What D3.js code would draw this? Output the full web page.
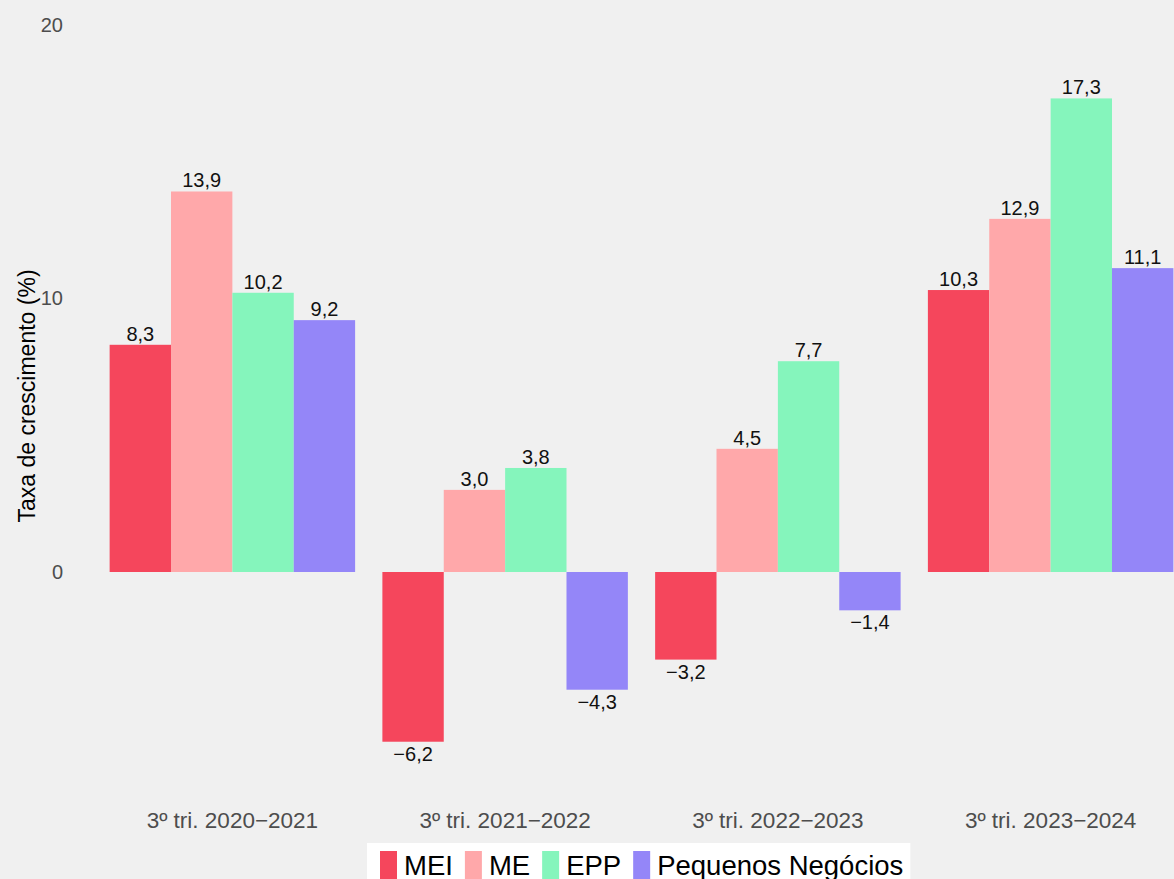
<!DOCTYPE html>
<html>
<head>
<meta charset="utf-8">
<script src="https://cdn.jsdelivr.net/npm/d3@7"></script>
<style>
  html, body { margin: 0; padding: 0; background: #f0f0f0; }
  svg { display: block; font-family: "Liberation Sans", Arial, Helvetica, sans-serif; }
</style>
</head>
<body>
<svg id="chart" width="1174" height="879"></svg>
<script>
const periods = ["3º tri. 2020−2021", "3º tri. 2021−2022", "3º tri. 2022−2023", "3º tri. 2023−2024"];
const seriesNames = ["MEI", "ME", "EPP", "Pequenos Negócios"];
const seriesColors = ["#f5465c", "#ffa8aa", "#85f5bc", "#9486f8"];
const mei = [8.3, -6.2, -3.2, 10.3];
const me = [13.9, 3.0, 4.5, 12.9];
const epp = [10.2, 3.8, 7.7, 17.3];
const pequenos = [9.2, -4.3, -1.4, 11.1];
const yTicks = [0, 10, 20];

const seriesValues = [mei, me, epp, pequenos];
const rows = [];
periods.forEach((p, i) => {
  seriesNames.forEach((s, j) => {
    rows.push({ period: p, series: s, value: seriesValues[j][i], color: seriesColors[j] });
  });
});

const svg = d3.select("#chart");
const width = 1174, height = 879;

svg.append("rect").attr("width", width).attr("height", height).attr("fill", "#f0f0f0");

// scales
const x = d3.scaleBand().domain(periods).range([96, 1187]).paddingInner(0.1).paddingOuter(0.05);
const xSub = d3.scaleBand().domain(seriesNames).range([0, x.bandwidth()]);
const y = d3.scaleLinear().domain([0, 20]).range([572, 24.5]);

const fmt = (v) => (v < 0 ? "\u2212" : "") + Math.abs(v).toFixed(1).replace(".", ",");

// y axis labels
svg.append("g").selectAll("text")
  .data(yTicks)
  .join("text")
  .attr("x", 63)
  .attr("y", (d) => y(d))
  .attr("dy", "0.35em")
  .attr("text-anchor", "end")
  .attr("fill", "#4d4d4d")
  .attr("font-size", 20)
  .text((d) => d);

svg.append("text")
  .attr("transform", `translate(35,${396}) rotate(-90)`)
  .attr("text-anchor", "middle")
  .attr("fill", "#000")
  .attr("font-size", 23)
  .text("Taxa de crescimento (%)");

// bars
const g = svg.append("g");
g.selectAll("rect")
  .data(rows)
  .join("rect")
  .attr("x", (d) => x(d.period) + xSub(d.series))
  .attr("width", xSub.bandwidth())
  .attr("y", (d) => y(Math.max(0, d.value)))
  .attr("height", (d) => Math.abs(y(d.value) - y(0)))
  .attr("fill", (d) => d.color);

g.selectAll("text")
  .data(rows)
  .join("text")
  .attr("x", (d) => x(d.period) + xSub(d.series) + xSub.bandwidth() / 2)
  .attr("y", (d) => (d.value >= 0 ? y(d.value) - 4 : y(d.value) + 19))
  .attr("text-anchor", "middle")
  .attr("fill", "#111")
  .attr("font-size", 20)
  .text((d) => fmt(d.value));

// x axis labels
svg.append("g").selectAll("text")
  .data(periods)
  .join("text")
  .attr("x", (d) => x(d) + x.bandwidth() / 2)
  .attr("y", 828)
  .attr("text-anchor", "middle")
  .attr("fill", "#4d4d4d")
  .attr("font-size", 22.5)
  .text((d) => d);

// legend
const legend = svg.append("g");
const legendBox = legend.append("rect")
  .attr("x", 367).attr("y", 843).attr("height", 50).attr("fill", "#ffffff");
let lx = 380;
seriesNames.forEach((name, i) => {
  legend.append("rect")
    .attr("x", lx).attr("y", 851).attr("width", 17).attr("height", 34)
    .attr("fill", seriesColors[i]);
  const t = legend.append("text")
    .attr("x", lx + 24).attr("y", 875)
    .attr("font-size", 27.5)
    .attr("fill", "#000")
    .text(name);
  lx += 24 + t.node().getComputedTextLength() + 12;
});
legendBox.attr("width", lx - 12 + 7 - 367);
</script>
</body>
</html>
